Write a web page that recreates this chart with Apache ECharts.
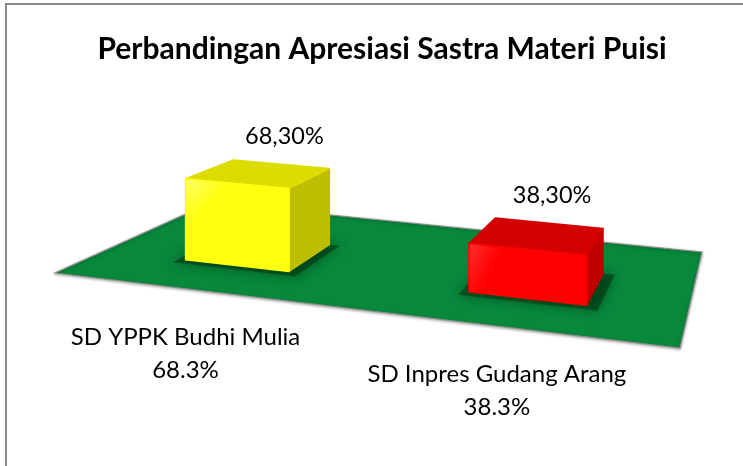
<!DOCTYPE html>
<html>
<head>
<meta charset="utf-8">
<script src="https://cdn.jsdelivr.net/npm/echarts@6/dist/echarts.min.js"></script>
<style>
html,body{margin:0;padding:0;background:#fff;}
#chart{width:743px;height:466px;}
</style>
</head>
<body>
<div id="chart"></div>
<script>
// ---- data ----
const categories = ['SD YPPK Budhi Mulia', 'SD Inpres Gudang Arang'];
const values = [68.3, 38.3];
const titleText = 'Perbandingan Apresiasi Sastra Materi Puisi';

// ---- styles ----
const FONT = 'Lato, "Open Sans", sans-serif';
const barStyles = [
  { front: '#FFFF10', frontHi: '#FFFF70', top: '#DCDC00', side: '#BEBE00' },
  { front: '#FF0000', frontHi: '#FF3030', top: '#D20000', side: '#C00000' }
];
const FLOOR_COLOR = '#07883B';
// floor corners as offsets from the grid's bottom-left (projection style)
const FLOOR_FR = [0, 75];     // x added to grid width
const FLOOR_BR = [22, -21];   // x added to grid width
const FLOOR_BL = [155, -70];
const BAR_HALF_U = 0.095, W_FRONT = 0.27, W_BACK = 0.61;

function homography(cs) {
  const x0 = cs.x, y0 = cs.y + cs.height;
  const p0 = [x0, y0];
  const p1 = [x0 + cs.width + FLOOR_FR[0], y0 + FLOOR_FR[1]];
  const p2 = [x0 + cs.width + FLOOR_BR[0], y0 + FLOOR_BR[1]];
  const p3 = [x0 + FLOOR_BL[0], y0 + FLOOR_BL[1]];
  const dx1 = p1[0] - p2[0], dx2 = p3[0] - p2[0], dx3 = p0[0] - p1[0] + p2[0] - p3[0];
  const dy1 = p1[1] - p2[1], dy2 = p3[1] - p2[1], dy3 = p0[1] - p1[1] + p2[1] - p3[1];
  const den = dx1 * dy2 - dx2 * dy1;
  const g = (dx3 * dy2 - dx2 * dy3) / den;
  const h = (dx1 * dy3 - dx3 * dy1) / den;
  const a = p1[0] - p0[0] + g * p1[0], b = p3[0] - p0[0] + h * p3[0], c = p0[0];
  const d = p1[1] - p0[1] + g * p1[1], e = p3[1] - p0[1] + h * p3[1], f = p0[1];
  return function (u, w, hpx) {
    const D = g * u + h * w + 1;
    return [(a * u + b * w + c) / D, (d * u + e * w + f) / D - (hpx || 0) / D];
  };
}

const chart = echarts.init(document.getElementById('chart'), null, { renderer: 'canvas' });

const option = {
  backgroundColor: '#ffffff',
  animation: false,
  title: {
    text: titleText,
    left: 377,
    top: 29,
    textAlign: 'center',
    textStyle: { fontFamily: FONT, fontWeight: 'bold', fontSize: 30, color: '#000' }
  },
  graphic: [{
    type: 'rect',
    shape: { x: 6, y: 4, width: 900, height: 700 },
    style: { fill: 'none', stroke: '#8a8a8a', lineWidth: 2 },
    silent: true
  }],
  grid: { left: 55, right: 63, top: 148, bottom: 193 },
  xAxis: { type: 'category', data: categories, show: false },
  yAxis: { type: 'value', min: 0, max: 100, show: false },
  series: [
    {
      type: 'custom',
      z: 1,
      data: [[0, 0]],
      renderItem: function (params, api) {
        const P = homography(params.coordSys);
        const pts = [P(0, 0), P(1, 0), P(1, 1), P(0, 1)];
        return {
          type: 'polygon',
          shape: { points: pts },
          style: { fill: FLOOR_COLOR, stroke: '#8f8f8f', lineWidth: 1.2,
                   shadowBlur: 3, shadowColor: 'rgba(0,0,0,0.35)', shadowOffsetY: 1 }
        };
      }
    },
    {
      type: 'custom',
      z: 2,
      data: values.map((v, i) => [i, v]),
      renderItem: function (params, api) {
        const cs = params.coordSys;
        const P = homography(cs);
        const i = api.value(0), v = api.value(1);
        const base = api.coord([i, 0]);
        const topPt = api.coord([i, v]);
        const H = base[1] - topPt[1];
        const uc = (base[0] - cs.x) / cs.width;
        const u0 = uc - BAR_HALF_U, u1 = uc + BAR_HALF_U;
        const st = barStyles[i];
        const FLb = P(u0, W_FRONT, 0), FRb = P(u1, W_FRONT, 0), BRb = P(u1, W_BACK, 0), BLb = P(u0, W_BACK, 0);
        const FLt = P(u0, W_FRONT, H), FRt = P(u1, W_FRONT, H), BRt = P(u1, W_BACK, H), BLt = P(u0, W_BACK, H);
        const sh = [P(u0 - 0.012, W_FRONT - 0.04, 0), P(u1 + 0.02, W_FRONT - 0.04, 0), P(u1 + 0.02, W_BACK, 0), P(u0 - 0.012, W_BACK, 0)];
        const face = (pts, fill) => ({
          type: 'polygon',
          shape: { points: pts },
          style: { fill: fill, stroke: fill, lineWidth: 1.5, lineJoin: 'round' }
        });
        const frontFill = new echarts.graphic.LinearGradient(0, 0, 1, 1, [
          { offset: 0, color: st.frontHi }, { offset: 0.25, color: st.front }, { offset: 1, color: st.front }
        ]);
        const labelX = (BLt[0] + BRt[0]) / 2;
        const labelY = (BLt[1] + BRt[1]) / 2 - 28;
        const edgePt = P(uc, 0, 0);
        return {
          type: 'group',
          children: [
            {
              type: 'polygon',
              shape: { points: sh },
              style: { fill: 'rgba(0,55,20,0.6)', shadowBlur: 12, shadowColor: 'rgba(0,40,10,0.85)' }
            },
            face([FRb, BRb, BRt, FRt], st.side),
            face([FLt, FRt, BRt, BLt], st.top),
            {
              type: 'polygon',
              shape: { points: [FLb, FRb, FRt, FLt] },
              style: { fill: frontFill, stroke: st.front, lineWidth: 1.5, lineJoin: 'round' }
            },
            {
              type: 'text',
              style: {
                text: v.toFixed(2).replace('.', ',') + '%',
                x: labelX + 3, y: labelY,
                align: 'center', verticalAlign: 'middle',
                fontFamily: FONT, fontSize: 23.5, fill: '#000'
              }
            },
            {
              type: 'text',
              style: {
                text: categories[i] + '\n' + v.toFixed(1) + '%',
                x: edgePt[0] - 10, y: edgePt[1] + 64,
                align: 'center', verticalAlign: 'middle',
                lineHeight: 33,
                fontFamily: FONT, fontSize: 24, fill: '#000'
              }
            }
          ]
        };
      }
    }
  ]
};
chart.setOption(option);
</script>
</body>
</html>
